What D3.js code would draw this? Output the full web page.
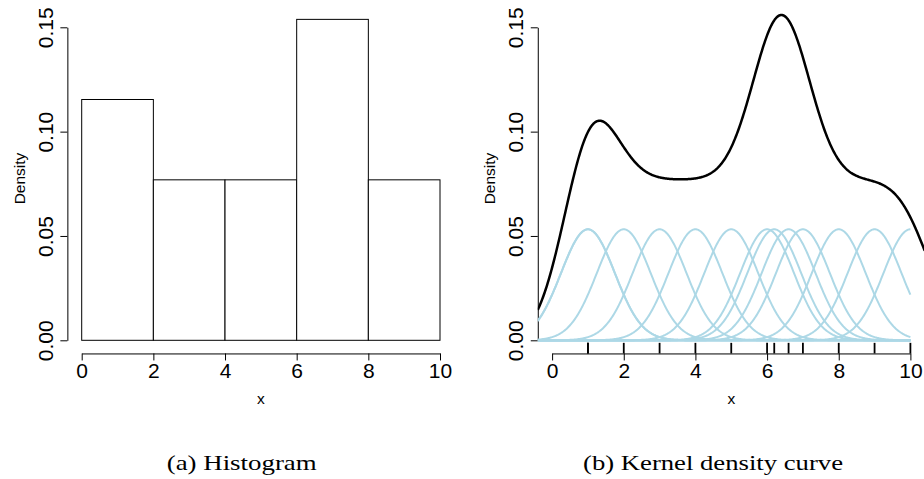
<!DOCTYPE html>
<html>
<head>
<meta charset="utf-8">
<script src="https://cdn.jsdelivr.net/npm/d3@7"></script>
<style>
  body { margin: 0; background: #fff; }
  svg { display: block; }
</style>
</head>
<body>
<svg id="fig" width="924" height="479"></svg>
<script>
// Histogram bins (edges) and their densities
const binEdges = [0, 2, 4, 6, 8, 10];
const binDensity = [0.1154, 0.0769, 0.0769, 0.1538, 0.0769];

// Observations behind the kernel density curve and the rug
const sample = [1, 1, 2, 3, 4, 5, 6, 6.2, 6.6, 7, 8, 9, 10];
const bandwidth = 0.75;
const kernelWeight = 0.1;   // height factor of each drawn kernel

// Axis ticks and labels
const xTicks = [0, 2, 4, 6, 8, 10];
const yTicks = [0, 0.05, 0.10, 0.15];
const yTickLabels = ["0.00", "0.05", "0.10", "0.15"];
const xTitle = "x";
const yTitle = "Density";
const captions = ["(a) Histogram", "(b) Kernel density curve"];

const sansFont = "'Liberation Sans', Arial, Helvetica, sans-serif";
const serifFont = "'Liberation Serif', 'Times New Roman', serif";

const svg = d3.select("#fig");

const panelOffsets = [0, 470.4];
const xLim = [-0.4, 10.4];
const yLim = [-0.0063, 0.163];

function gauss(u) { return Math.exp(-0.5 * u * u) / Math.sqrt(2 * Math.PI); }

function makePanel(off, idx) {
  const g = svg.append("g");
  const x = d3.scaleLinear().domain([0, 10]).range([81.7 + off, 440 + off]);
  const y = d3.scaleLinear().domain([0, 0.15]).range([340.3, 27.3]);
  const plotLeft = x(xLim[0]);
  const plotBottom = y(yLim[0]);

  // x axis
  const xa = g.append("g")
    .attr("transform", `translate(0,${plotBottom})`)
    .call(d3.axisBottom(x).tickValues(xTicks).tickFormat(d3.format("d"))
      .tickSize(7).tickPadding(3).tickSizeOuter(0));
  xa.attr("font-family", sansFont).attr("font-size", 21);
  xa.selectAll("path, line").attr("stroke", "#000").attr("stroke-width", 1);
  xa.selectAll("text").attr("fill", "#000");

  // y axis with rotated labels
  const ya = g.append("g")
    .attr("transform", `translate(${plotLeft},0)`)
    .call(d3.axisLeft(y).tickValues(yTicks).tickFormat((d, i) => yTickLabels[i])
      .tickSize(7).tickSizeOuter(0));
  ya.attr("font-family", sansFont).attr("font-size", 21);
  ya.selectAll("path, line").attr("stroke", "#000").attr("stroke-width", 1);
  ya.selectAll("text")
    .attr("fill", "#000")
    .attr("transform", "rotate(-90)")
    .attr("x", 0).attr("y", -14.5).attr("dy", null)
    .attr("text-anchor", "middle");

  // axis titles
  g.append("text")
    .attr("x", (x(0) + x(10)) / 2).attr("y", 404)
    .attr("text-anchor", "middle")
    .attr("font-family", sansFont).attr("font-size", 15.5)
    .text(xTitle);
  g.append("text")
    .attr("transform", `translate(${25 + off},178.5) rotate(-90)`)
    .attr("text-anchor", "middle")
    .attr("font-family", sansFont).attr("font-size", 15.5)
    .text(yTitle);

  // caption
  const cx = idx === 0 ? 241.7 : 713;
  const cw = idx === 0 ? 150 : 260;
  g.append("text")
    .attr("x", cx - cw / 2).attr("y", 469.5)
    .attr("font-family", serifFont).attr("font-size", 21)
    .attr("textLength", cw).attr("lengthAdjust", "spacingAndGlyphs")
    .text(captions[idx]);

  return { g, x, y, plotLeft, plotBottom, plotRight: x(xLim[1]), plotTop: y(yLim[1]) };
}

// Panel (a): histogram
const pa = makePanel(panelOffsets[0], 0);
pa.g.append("g").selectAll("rect")
  .data(binDensity)
  .join("rect")
  .attr("x", (d, i) => pa.x(binEdges[i]))
  .attr("y", d => pa.y(d))
  .attr("width", (d, i) => pa.x(binEdges[i + 1]) - pa.x(binEdges[i]))
  .attr("height", d => pa.y(0) - pa.y(d))
  .attr("fill", "#fff")
  .attr("stroke", "#000")
  .attr("stroke-width", 1);

// Panel (b): kernel density curve with individual kernels and rug
const pb = makePanel(panelOffsets[1], 1);
svg.append("defs").append("clipPath").attr("id", "clipB")
  .append("rect")
  .attr("x", pb.plotLeft).attr("y", pb.plotTop)
  .attr("width", pb.plotRight - pb.plotLeft)
  .attr("height", pb.plotBottom - pb.plotTop);

const plotB = pb.g.append("g").attr("clip-path", "url(#clipB)");
const n = sample.length;

const gridFull = d3.range(xLim[0], xLim[1] + 1e-9, 0.02);
const kde = gridFull.map(t => [t, d3.sum(sample, s => gauss((t - s) / bandwidth)) / (n * bandwidth)]);

const line = d3.line().x(d => pb.x(d[0])).y(d => pb.y(d[1]));

plotB.append("path")
  .datum(kde)
  .attr("d", line)
  .attr("fill", "none")
  .attr("stroke", "#000")
  .attr("stroke-width", 2.5);

const gridKernel = d3.range(xLim[0], 10 + 1e-9, 0.02);
plotB.append("g").selectAll("path")
  .data(sample)
  .join("path")
  .attr("d", s => line(gridKernel.map(t => [t, kernelWeight * gauss((t - s) / bandwidth) / bandwidth])))
  .attr("fill", "none")
  .attr("stroke", "#add8e6")
  .attr("stroke-width", 2);

// rug
const rugLen = 0.03 * pb.plotBottom;
pb.g.append("g").selectAll("line")
  .data(sample)
  .join("line")
  .attr("x1", d => pb.x(d)).attr("x2", d => pb.x(d))
  .attr("y1", pb.plotBottom).attr("y2", pb.plotBottom - rugLen)
  .attr("stroke", "#000")
  .attr("stroke-width", 1.8);
</script>
</body>
</html>
